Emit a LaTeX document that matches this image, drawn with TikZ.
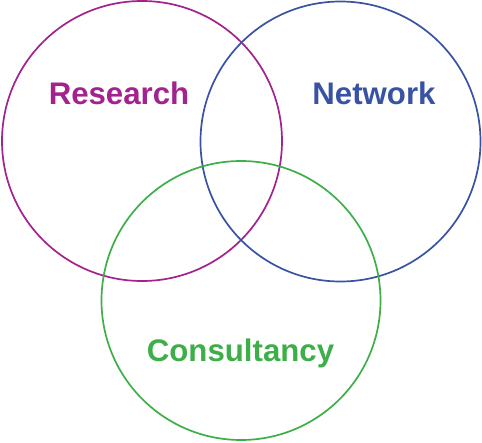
\documentclass[tikz,border=0pt]{standalone}
\usepackage{fontspec}
\setmainfont{Liberation Sans}
\definecolor{respurple}{HTML}{A2228E}
\definecolor{netblue}{HTML}{3953A4}
\definecolor{congreen}{HTML}{3DAE48}
\tikzset{
  venn/.style={line width=1.7pt},
  lbl/.style={anchor=base, inner sep=0pt, font=\fontsize{31.2pt}{36pt}\selectfont\bfseries}
}
\begin{document}
\begin{tikzpicture}[x=1pt,y=-1pt]
\useasboundingbox (0,0) rectangle (482,442);
\draw[venn, respurple] (142,141) circle[radius=140];
\draw[venn, netblue] (340.5,141.5) circle[radius=140];
\draw[venn, congreen] (241,300.5) circle[radius=139.5];
\node[lbl, text=respurple] (research) at (119,104) {Research};
\node[lbl, text=netblue] (network) at (374,104) {Network};
\node[lbl, text=congreen] (consultancy) at (240.5,361.5) {Consultancy};
\end{tikzpicture}
\end{document}
